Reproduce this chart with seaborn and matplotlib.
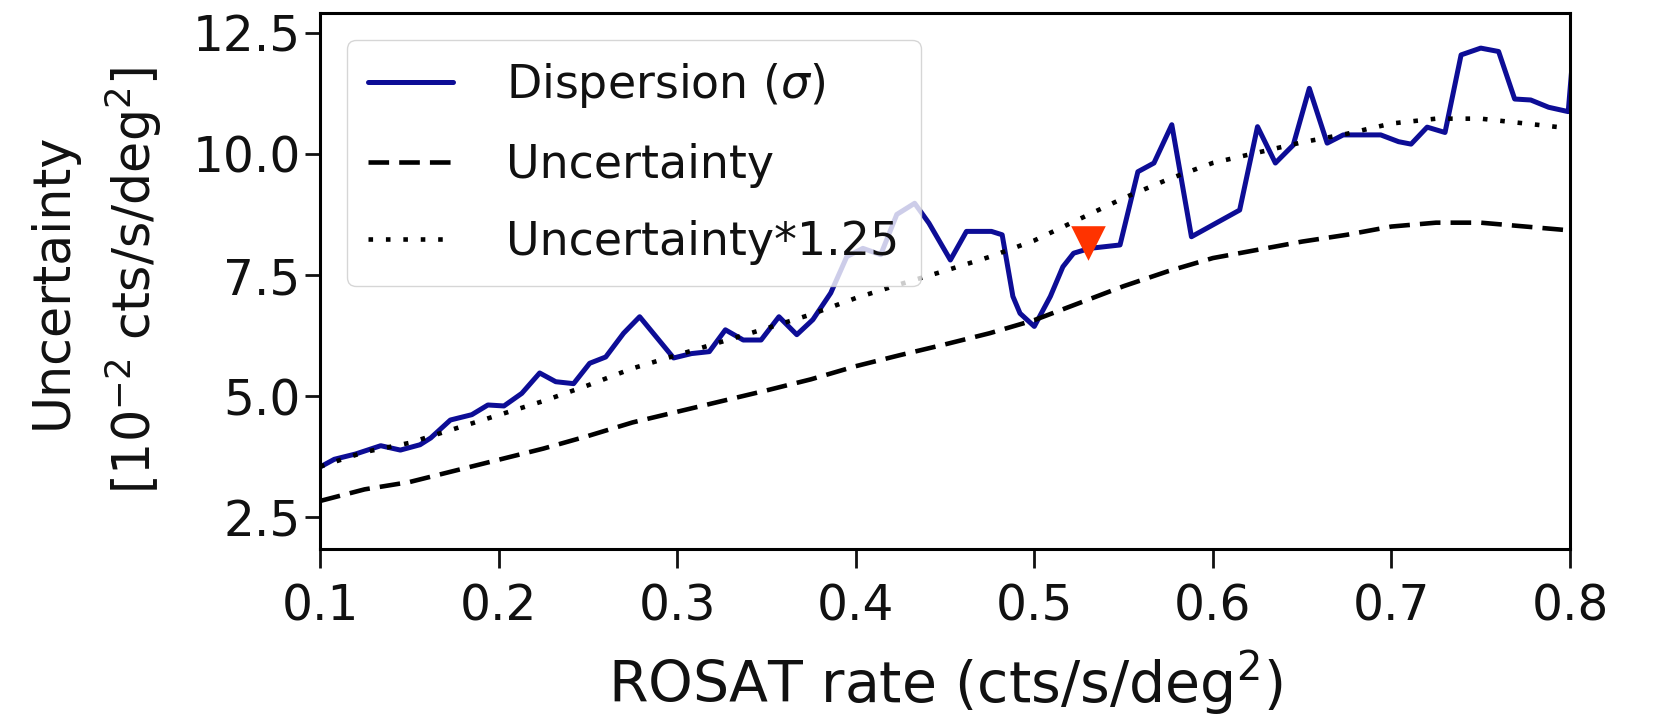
import numpy as np
import pandas as pd
import matplotlib
matplotlib.use("Agg")
import matplotlib.pyplot as plt
import seaborn as sns

# ---- data ----
rate_disp = [0.100, 0.108, 0.120, 0.134, 0.145, 0.156, 0.162, 0.173, 0.185, 0.194,
             0.203, 0.213, 0.223, 0.232, 0.242, 0.251, 0.260, 0.270, 0.279, 0.298,
             0.308, 0.318, 0.327, 0.337, 0.347, 0.357, 0.367, 0.376, 0.386, 0.395,
             0.404, 0.414, 0.423, 0.433, 0.441, 0.453, 0.462, 0.476, 0.482, 0.488,
             0.492, 0.500, 0.509, 0.516, 0.522, 0.531, 0.548, 0.558, 0.567, 0.577,
             0.588, 0.615, 0.625, 0.635, 0.645, 0.654, 0.664, 0.673, 0.694, 0.704,
             0.711, 0.720, 0.730, 0.739, 0.750, 0.760, 0.769, 0.778, 0.788, 0.799,
             0.802]
dispersion = [3.54, 3.70, 3.81, 3.98, 3.89, 4.00, 4.14, 4.51, 4.62, 4.82,
              4.80, 5.06, 5.48, 5.30, 5.26, 5.68, 5.81, 6.30, 6.64, 5.79,
              5.88, 5.92, 6.37, 6.16, 6.16, 6.64, 6.27, 6.58, 7.13, 7.88,
              8.05, 7.92, 8.75, 8.98, 8.57, 7.81, 8.40, 8.40, 8.33, 7.06,
              6.71, 6.44, 7.06, 7.67, 7.95, 8.05, 8.12, 9.63, 9.81, 10.60,
              8.29, 8.84, 10.56, 9.81, 10.18, 11.35, 10.22, 10.39, 10.39, 10.25,
              10.20, 10.55, 10.44, 12.04, 12.18, 12.11, 11.13, 11.11, 10.96, 10.87,
              12.2]

rate_unc = [0.100, 0.125, 0.150, 0.175, 0.200, 0.225, 0.250, 0.275, 0.300, 0.325,
            0.350, 0.375, 0.400, 0.425, 0.450, 0.475, 0.500, 0.525, 0.550, 0.575,
            0.600, 0.625, 0.650, 0.675, 0.700, 0.725, 0.750, 0.775, 0.800]
uncertainty = [2.84, 3.08, 3.23, 3.46, 3.69, 3.92, 4.18, 4.46, 4.68, 4.90,
               5.12, 5.35, 5.62, 5.85, 6.07, 6.30, 6.57, 6.92, 7.27, 7.58,
               7.85, 8.02, 8.19, 8.33, 8.50, 8.58, 8.58, 8.50, 8.42]
unc_factor = 1.25

marker_x = [0.530]
marker_y = [8.16]

x_ticks = [0.1, 0.2, 0.3, 0.4, 0.5, 0.6, 0.7, 0.8]
y_ticks = [2.5, 5.0, 7.5, 10.0, 12.5]

# ---- figure ----
sns.set_style("ticks")
plt.rcParams['font.family'] = ['DejaVu Sans']
plt.rcParams['mathtext.fontset'] = 'dejavusans'
for k in ['text.color', 'axes.labelcolor', 'xtick.color', 'ytick.color']:
    plt.rcParams[k] = '#111111'

fig = plt.figure(figsize=(16.53, 7.14), dpi=100)
ax = fig.add_axes([0.1936, 0.2311, 0.7562, 0.7511])

df_d = pd.DataFrame({"rate": rate_disp, "val": dispersion})
df_u = pd.DataFrame({"rate": rate_unc, "val": uncertainty})
df_u125 = pd.DataFrame({"rate": rate_unc, "val": np.array(uncertainty) * unc_factor})

sns.lineplot(data=df_d, x="rate", y="val", ax=ax, color="#0d0d96", lw=3.6,
             label=r"Dispersion ($\sigma$)")
sns.lineplot(data=df_u, x="rate", y="val", ax=ax, color="black", lw=3.3,
             linestyle=(0, (4.5, 2.2)), label="Uncertainty")
sns.lineplot(data=df_u125, x="rate", y="val", ax=ax, color="black", lw=3.3,
             linestyle=(0, (1, 2.8)), label="Uncertainty*1.25")
sns.scatterplot(x=marker_x, y=marker_y, ax=ax, marker="v", s=620,
                color="#ff3300", linewidth=0, zorder=5, legend=False)

ax.set_xlim(0.1, 0.8)
ax.set_ylim(1.85, 12.91)
ax.set_xticks(x_ticks)
ax.set_xticklabels([f"{t:.1f}" for t in x_ticks])
ax.set_yticks(y_ticks)
ax.set_yticklabels([f"{t:.1f}" for t in y_ticks])
ax.tick_params(axis='x', labelsize=35, length=14, width=2, pad=10)
ax.tick_params(axis='y', labelsize=35, length=11, width=2, pad=3)
for s in ax.spines.values():
    s.set_visible(True)
    s.set_linewidth(2.2)
    s.set_color("black")

ax.set_xlabel(r"ROSAT rate (cts/s/deg$^2$)", fontsize=41, labelpad=13)
ax.set_ylabel("Uncertainty\n" + r"[$10^{-2}$ cts/s/deg$^2$]", fontsize=36.5,
              labelpad=20, linespacing=1.5)

leg = ax.legend(loc="upper left", fontsize=33, handlelength=1.86,
                handletextpad=1.16, labelspacing=0.71, borderpad=0.46,
                borderaxespad=0.34, framealpha=0.8,
                bbox_to_anchor=(0.0091, 0.978))

fig.savefig("out.png", dpi=100)
